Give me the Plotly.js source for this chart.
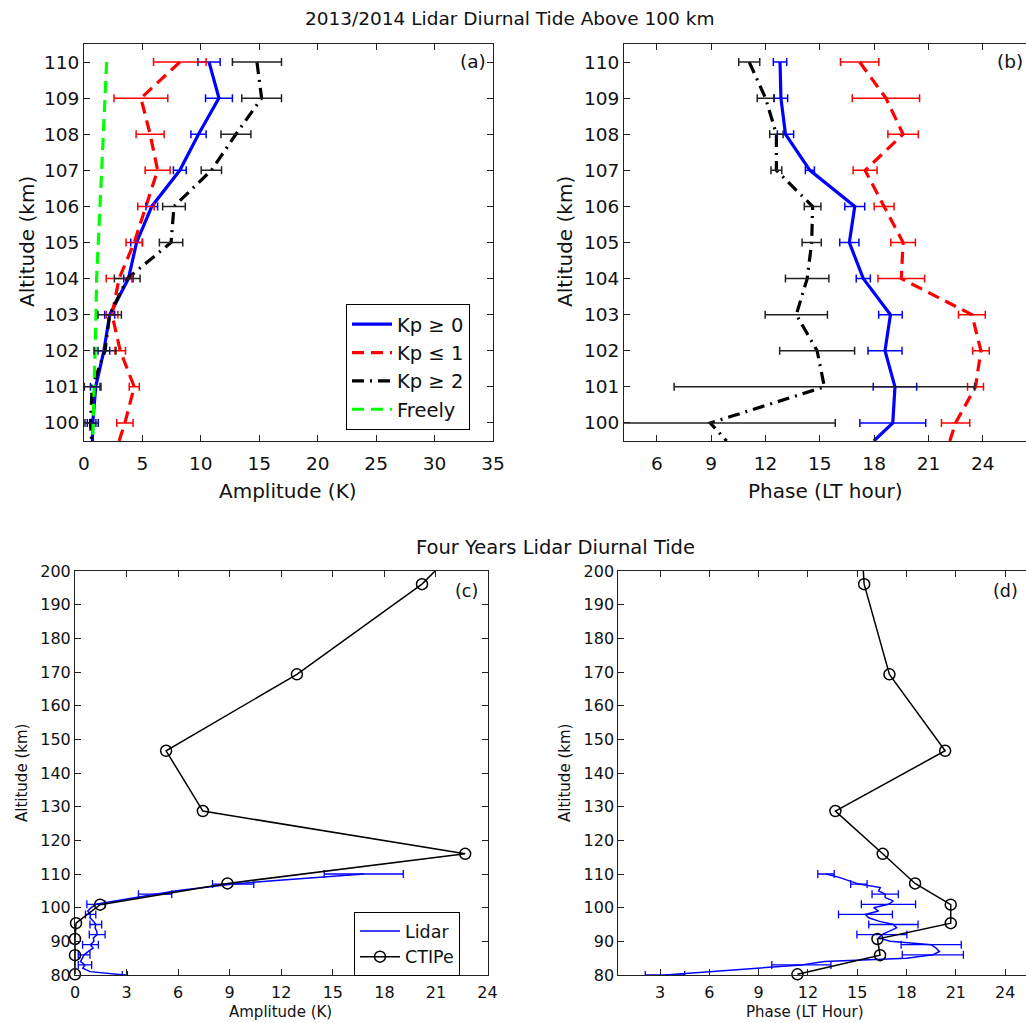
<!DOCTYPE html>
<html><head><meta charset="utf-8">
<script src="https://cdn.plot.ly/plotly-3.0.1.min.js"></script>
<style>html,body{margin:0;padding:0;background:#fff;overflow:hidden}#chart{width:1026px;height:1023px}</style>
</head><body><div id="chart"></div>
<script>
// ---------- Panel (a)/(b): 2013/2014 lidar diurnal tide above 100 km ----------
const altA = [110,109,108,107,106,105,104,103,102,101,100];
const altAEnd = 99.5;

const kp0Amp    = [10.7,11.55,9.8,8.2,5.8,4.5,3.8,2.2,1.7,1.0,0.75];
const kp0AmpErr = [0.95,1.15,0.65,0.55,0.5,0.5,0.4,0.43,0.5,0.45,0.47];
const kp0AmpEnd = 0.72;
const kp1Amp    = [8.2,4.87,5.66,6.3,5.3,4.3,3.0,2.4,3.1,4.3,3.5];
const kp1AmpErr = [2.25,2.3,1.2,1.07,0.7,0.7,1.1,0.5,0.45,0.43,0.7];
const kp1AmpEnd = 3.0;
const kp2Amp    = [14.8,15.2,13.0,10.9,7.7,7.45,3.7,2.2,1.8,0.7,0.55];
const kp2AmpErr = [2.1,1.7,1.28,0.87,0.97,1.0,1.1,1.0,0.94,0.67,0.47];
const kp2AmpEnd = 0.65;
const freeAmp   = [1.94,1.8,1.65,1.51,1.37,1.22,1.08,1.03,0.94,0.86,0.8];
const freeAmpEnd = 0.74;

const kp0Ph    = [12.8,12.85,13.1,14.45,16.93,16.63,17.4,18.9,18.6,19.15,19.03];
const kp0PhErr = [0.37,0.37,0.45,0.25,0.55,0.53,0.39,0.65,0.94,1.2,1.82];
const kp0PhEnd = 17.98;
const kp1Ph    = [17.2,18.65,19.6,17.5,18.55,19.6,19.5,23.4,23.9,23.6,22.5];
const kp1PhErr = [1.06,1.86,0.84,0.66,0.55,0.68,1.29,0.74,0.46,0.44,0.78];
const kp1PhEnd = 22.18;
const kp2Ph    = [11.1,12.0,12.6,12.6,14.6,14.55,14.3,13.7,14.85,15.25,8.95];
const kp2PhErr = [0.58,0.46,0.37,0.3,0.46,0.53,1.2,1.72,2.07,8.3,6.9];
const kp2PhEnd = 9.85;

// ---------- Panel (c)/(d): four years lidar diurnal tide ----------
const lidarAlt = [80,81,82,83,84,85,86,87,88,89,90,91,92,93,94,95,96,97,98,99,100,101,102,103,104,105,106,107,108,109,110];
const lidarAmp = [2.9,0.87,0.45,0.58,0.32,0.45,0.53,0.78,1.05,0.9,1.1,1.07,1.29,1.26,1.17,1.21,1.07,0.87,0.91,0.74,0.94,1.22,2.3,3.5,4.66,5.9,7.5,9.2,11.5,14.0,16.8];
const lidarAmpErr = [0.15,null,null,0.39,null,null,0.34,null,null,0.46,null,null,0.46,null,null,0.34,null,null,0.3,null,null,0.53,null,null,0.97,null,null,1.2,null,null,2.3];
const lidarPh = [3.3,6.0,9.1,11.6,13.0,18.0,19.6,20.0,19.8,19.5,17.0,16.3,16.5,17.0,17.4,17.2,16.3,15.7,15.5,16.3,16.0,16.9,17.2,16.7,16.7,16.3,16.4,15.1,14.5,13.9,13.1];
const lidarPhErr = [1.2,null,null,1.8,null,null,1.86,null,null,1.83,null,null,1.52,null,null,1.5,null,null,1.64,null,null,1.65,null,null,0.8,null,null,0.5,null,null,0.5];

const ctipeAlt = [80.2,85.9,90.7,95.4,100.9,107.2,116.0,128.7,146.6,169.3,196.1];
const ctipeAmp = [0,0,0,0.06,1.46,8.87,22.7,7.44,5.3,12.91,20.19];
const ctipePh  = [11.36,16.39,16.23,20.69,20.69,18.52,16.55,13.67,20.35,16.96,15.42];
// continuation of the model profile beyond the top of the axes
const ctipeExtAlt = [196.1,226];
const ctipeExtAmp = [20.19,26.0];
const ctipeExtPh  = [15.42,15.04];

// ---------- helpers ----------
const F = 'DejaVu Sans, sans-serif';
const BLUE='#0000ff', RED='#ff0000', BLACK='#000000', GREEN='#00ff00';

function line(x, y, name, color, width, dash, xa, ya, legend) {
  return {type:'scatter', mode:'lines', x:x, y:y, name:name, xaxis:xa, yaxis:ya,
    line:{color:color, width:width, dash:dash||'solid'},
    showlegend: !!legend, legend: legend||'legend', hoverinfo:'skip'};
}
function errs(x, y, e, color, xa, ya, thick) {
  const xs=[], ys=[], es=[];
  for (let i=0;i<e.length;i++){ if(e[i]!==null && e[i]!==undefined){ xs.push(x[i]); ys.push(y[i]); es.push(e[i]); } }
  return {type:'scatter', mode:'markers', x:xs, y:ys, xaxis:xa, yaxis:ya, showlegend:false,
    marker:{size:2, color:'rgba(0,0,0,0)'}, hoverinfo:'skip',
    error_x:{type:'data', array:es, visible:true, color:color, thickness:thick||1.5, width:4}};
}

const LW = 3.2;
const traces = [];
// Panel (a)
traces.push(line([...kp0Amp,kp0AmpEnd],[...altA,altAEnd],'Kp ≥ 0',BLUE,LW,'solid','x','y','legend'));
traces.push(line([...kp1Amp,kp1AmpEnd],[...altA,altAEnd],'Kp ≤ 1',RED,LW,'12px,7px','x','y','legend'));
traces.push(line([...kp2Amp,kp2AmpEnd],[...altA,altAEnd],'Kp ≥ 2',BLACK,LW,'12px,6px,2px,6px','x','y','legend'));
traces.push(line([...freeAmp,freeAmpEnd],[...altA,altAEnd],'Freely',GREEN,LW,'12px,7px','x','y','legend'));
traces.push(errs(kp0Amp,altA,kp0AmpErr,BLUE,'x','y'));
traces.push(errs(kp1Amp,altA,kp1AmpErr,RED,'x','y'));
traces.push(errs(kp2Amp,altA,kp2AmpErr,'#222','x','y'));
// Panel (b)
traces.push(line([...kp0Ph,kp0PhEnd],[...altA,altAEnd],'Kp ≥ 0',BLUE,LW,'solid','x2','y2'));
traces.push(line([...kp1Ph,kp1PhEnd],[...altA,altAEnd],'Kp ≤ 1',RED,LW,'12px,7px','x2','y2'));
traces.push(line([...kp2Ph,kp2PhEnd],[...altA,altAEnd],'Kp ≥ 2',BLACK,LW,'12px,6px,2px,6px','x2','y2'));
traces.push(errs(kp0Ph,altA,kp0PhErr,BLUE,'x2','y2'));
traces.push(errs(kp1Ph,altA,kp1PhErr,RED,'x2','y2'));
traces.push(errs(kp2Ph,altA,kp2PhErr,'#222','x2','y2'));
// Panel (c)
traces.push(line(lidarAmp,lidarAlt,'Lidar',BLUE,1.5,'solid','x3','y3','legend2'));
traces.push(errs(lidarAmp,lidarAlt,lidarAmpErr,BLUE,'x3','y3',1.3));
traces.push(line(ctipeExtAmp,ctipeExtAlt,'CTIPe ext',BLACK,1.5,'solid','x3','y3'));
traces.push({type:'scatter', mode:'lines+markers', x:ctipeAmp, y:ctipeAlt, name:'CTIPe', xaxis:'x3', yaxis:'y3',
  line:{color:BLACK,width:1.5}, marker:{symbol:'circle-open', size:11, color:BLACK, line:{width:1.5}},
  cliponaxis:false, legend:'legend2', showlegend:true, hoverinfo:'skip'});
// Panel (d)
traces.push(line(lidarPh,lidarAlt,'Lidar',BLUE,1.5,'solid','x4','y4'));
traces.push(errs(lidarPh,lidarAlt,lidarPhErr,BLUE,'x4','y4',1.3));
traces.push(line(ctipeExtPh,ctipeExtAlt,'CTIPe ext',BLACK,1.5,'solid','x4','y4'));
traces.push({type:'scatter', mode:'lines+markers', x:ctipePh, y:ctipeAlt, name:'CTIPe', xaxis:'x4', yaxis:'y4',
  line:{color:BLACK,width:1.5}, marker:{symbol:'circle-open', size:11, color:BLACK, line:{width:1.5}},
  cliponaxis:false, showlegend:false, hoverinfo:'skip'});

const W=1026, H=1023;
const px = v => v/W, py = v => 1 - v/H;

function ax(extra, fs) {
  return Object.assign({showgrid:false, zeroline:false, showline:true, linecolor:'#222', linewidth:1,
    mirror:'allticks', ticks:'inside', ticklen:6, tickwidth:1, tickcolor:'#222',
    tickfont:{family:F, size:fs, color:'#111'}, fixedrange:true}, extra);
}
const domYTop = [py(441), py(44)];
const domYBot = [py(975), py(571)];

function ann(text, x, y, size, angle, xanchor) {
  return {text:text, x:px(x), y:py(y), xref:'paper', yref:'paper', showarrow:false,
    xanchor:xanchor||'center', yanchor:'middle', textangle:angle||0,
    font:{family:F, size:size, color:'#111'}};
}

const layout = {
  width:W, height:H, margin:{l:0,r:0,t:0,b:0}, paper_bgcolor:'#fff', plot_bgcolor:'#fff',
  showlegend:true,
  xaxis: ax({domain:[px(84),px(493)], range:[0,35], dtick:5, tick0:0, anchor:'y', ticklabelstandoff:6},18.5),
  yaxis: ax({domain:domYTop, range:[99.5,110.5], dtick:1, tick0:100, anchor:'x'},18.5),
  xaxis2: ax({domain:[px(624),1], range:[4.18,26.39], dtick:3, tick0:0, anchor:'y2', ticklabelstandoff:6},18.5),
  yaxis2: ax({domain:domYTop, range:[99.5,110.5], dtick:1, tick0:100, anchor:'x2', mirror:false},18.5),
  xaxis3: ax({domain:[px(75),px(487.5)], range:[0,24], dtick:3, tick0:0, anchor:'y3', ticklabelstandoff:3},16),
  yaxis3: ax({domain:domYBot, range:[80,200], dtick:10, tick0:80, anchor:'x3'},16),
  xaxis4: ax({domain:[px(618.3),1], range:[0.46,25.27], dtick:3, tick0:0, anchor:'y4', ticklabelstandoff:3},16),
  yaxis4: ax({domain:domYBot, range:[80,200], dtick:10, tick0:80, anchor:'x4', mirror:false},16),
  legend: {x:px(346), y:py(304), xanchor:'left', yanchor:'top', bgcolor:'#fff', bordercolor:'#000', borderwidth:1,
    font:{family:F, size:19.5, color:'#111'}, itemwidth:40, tracegroupgap:0},
  legend2: {x:px(354), y:py(912), xanchor:'left', yanchor:'top', bgcolor:'#fff', bordercolor:'#000', borderwidth:1,
    font:{family:F, size:17.5, color:'#111'}, itemwidth:40},
  annotations: [
    ann('2013/2014 Lidar Diurnal Tide Above 100 km', 510, 19, 18.5),
    ann('Four Years Lidar Diurnal Tide', 555, 547, 19.5),
    ann('Amplitude (K)', 288, 491, 20),
    ann('Phase (LT hour)', 825, 491, 20),
    ann('Altitude (km)', 27, 242, 20, -90),
    ann('Altitude (km)', 565, 242, 20, -90),
    ann('Amplitude (K)', 280, 1012, 15),
    ann('Phase (LT Hour)', 805, 1012, 15),
    ann('Altitude (km)', 22, 773, 15, -90),
    ann('Altitude (km)', 565, 773, 15, -90),
    ann('(a)', 473, 62, 18.5),
    ann('(b)', 1010, 62, 18.5),
    ann('(c)', 466, 591, 17.5),
    ann('(d)', 1005, 591, 17.5)
  ]
};

Plotly.newPlot('chart', traces, layout, {staticPlot:true, displayModeBar:false});
</script></body></html>
